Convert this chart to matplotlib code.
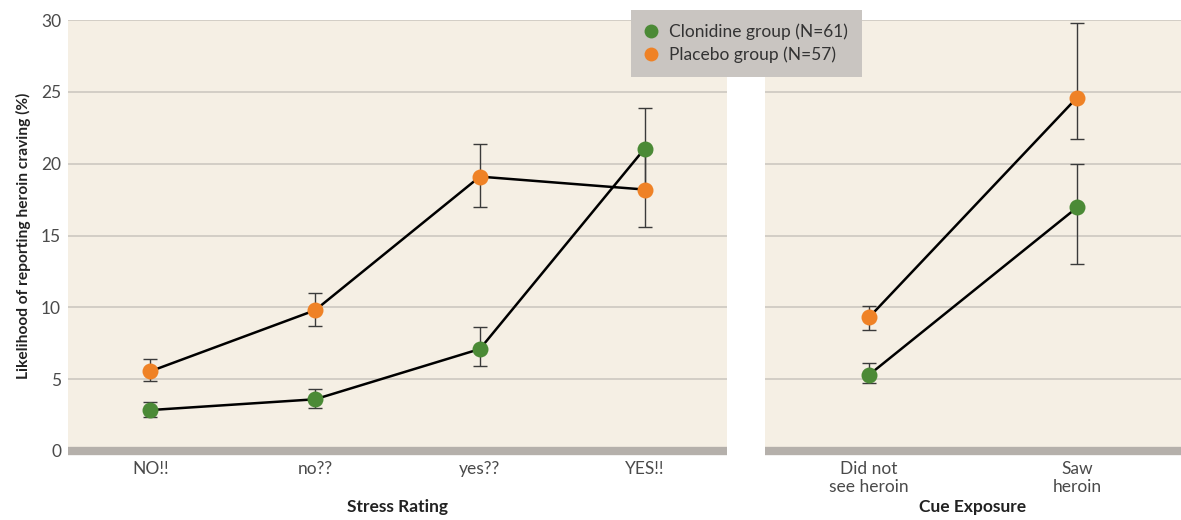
import matplotlib.pyplot as plt

plt.rcParams['font.family'] = ['Lato', 'DejaVu Sans']

# stress rating panel
stress_labels = ['NO!!', 'no??', 'yes??', 'YES!!']
clon_stress = [2.85, 3.6, 7.1, 21.05]
clon_stress_lo = [2.35, 3.0, 5.9, 18.2]
clon_stress_hi = [3.4, 4.35, 8.6, 23.9]
plac_stress = [5.55, 9.8, 19.1, 18.2]
plac_stress_lo = [4.9, 8.7, 17.0, 15.6]
plac_stress_hi = [6.4, 11.0, 21.4, 20.8]

# cue exposure panel
cue_labels = ['Did not\nsee heroin', 'Saw\nheroin']
clon_cue = [5.3, 16.95]
clon_cue_lo = [4.7, 13.05]
clon_cue_hi = [6.1, 20.0]
plac_cue = [9.3, 24.6]
plac_cue_lo = [8.4, 21.7]
plac_cue_hi = [10.1, 29.8]

green = '#4b8a36'
orange = '#ef8226'
bg = '#f5efe4'
grid_c = '#c9c4bd'

fig = plt.figure(figsize=(11.81, 5.20), dpi=100)
ax1 = fig.add_axes([0.0576, 0.1327, 0.558, 0.8288])
ax2 = fig.add_axes([0.6478, 0.1327, 0.3522, 0.8288])


def draw(ax, labels, vals, lo, hi, color, label):
    x = list(range(len(labels)))
    err = [[v - l for v, l in zip(vals, lo)], [h - v for v, h in zip(vals, hi)]]
    ax.errorbar(x, vals, yerr=err, fmt='none', ecolor='#3a3a3a', elinewidth=1,
                capsize=5, capthick=1, zorder=3)
    ax.plot(x, vals, color='black', lw=1.8, zorder=4)
    ax.plot(x, vals, 'o', color=color, ms=11.5, mec='none', zorder=5, label=label)


draw(ax1, stress_labels, clon_stress, clon_stress_lo, clon_stress_hi, green, 'Clonidine group (N=61)')
draw(ax1, stress_labels, plac_stress, plac_stress_lo, plac_stress_hi, orange, 'Placebo group (N=57)')
draw(ax2, cue_labels, clon_cue, clon_cue_lo, clon_cue_hi, green, 'Clonidine group (N=61)')
draw(ax2, cue_labels, plac_cue, plac_cue_lo, plac_cue_hi, orange, 'Placebo group (N=57)')

for ax, labels, xl in [(ax1, stress_labels, 'Stress Rating'), (ax2, cue_labels, 'Cue Exposure')]:
    ax.set_facecolor(bg)
    ax.set_ylim(0, 30)
    ax.set_xlim(-0.5, len(labels) - 0.5)
    ax.set_yticks(range(0, 31, 5))
    ax.set_xticks(range(len(labels)))
    ax.set_xticklabels(labels, fontsize=12.5, color='#4a4a4a', linespacing=1.2)
    ax.grid(axis='y', color=grid_c, lw=1.1)
    ax.set_axisbelow(True)
    for s in ['top', 'left', 'right']:
        ax.spines[s].set_visible(False)
    ax.spines['bottom'].set_color('#b5b0ab')
    ax.spines['bottom'].set_linewidth(6)
    ax.spines['bottom'].set_capstyle('butt')
    ax.spines['bottom'].set_zorder(6)
    ax.tick_params(length=0, pad=7)
    ax.set_xlabel(xl, fontsize=12.5, fontweight='bold', color='#222222', va='center')
    ax.xaxis.set_label_coords(0.5, -0.13)

ax1.tick_params(axis='y', labelsize=12.5, labelcolor='#4a4a4a', pad=5)
ax2.tick_params(axis='y', labelleft=False)
ax1.set_ylabel('Likelihood of reporting heroin craving (%)', fontsize=11.2,
               fontweight='bold', color='#222222', labelpad=7)

h, l = ax1.get_legend_handles_labels()
leg = fig.legend(h, l, loc='upper left', bbox_to_anchor=(0.534, 0.981),
                 frameon=True, fancybox=False, facecolor='#c9c5c1', edgecolor='none',
                 framealpha=1, fontsize=12.5, handlelength=0.8, handletextpad=0.6,
                 borderpad=0.8, labelspacing=0.35, borderaxespad=0)
for t in leg.get_texts():
    t.set_color('#333333')
for hd in leg.legend_handles:
    hd.set_markersize(10)

fig.savefig('out.png', dpi=100)
